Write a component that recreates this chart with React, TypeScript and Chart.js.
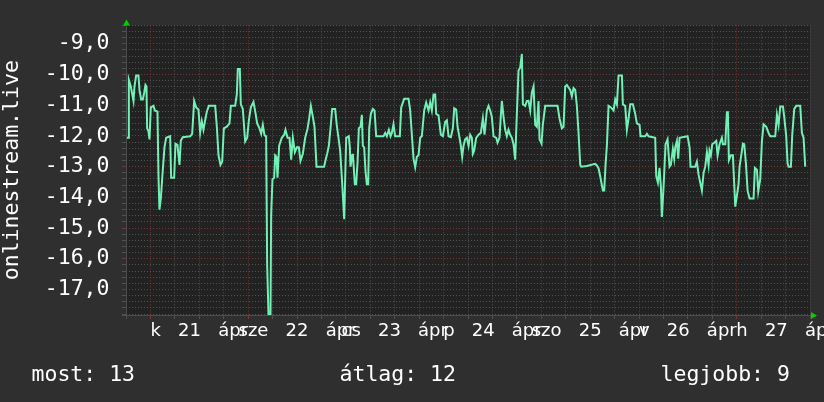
import React, { useEffect, useRef } from 'react';
import { Chart, registerables } from 'chart.js';

Chart.register(...registerables);

// hours since Tue 21 Apr 00:00
const hours = [
  -6.21, -5.45, -5.3, -4.82, -4.16, -3.92, -3.51, -2.94, -2.69, -2.28, -1.87, -1.54, -1.22, -0.97, -0.81, -0.48, -0.23,
  0.09, 0.75, 1.08, 1.73, 1.98, 2.22, 2.55, 3.04, 3.45, 3.86, 4.84, 5.09, 5.83, 6.15, 6.64, 7.14, 7.46, 7.95, 9.76,
  10.25, 10.74, 11.23, 11.8, 12.21, 12.62, 13.03, 13.44, 13.85, 14.34, 15.9, 16.31, 16.72, 17.21, 17.62, 18.03, 18.76,
  19.42, 19.75, 20.81, 21.22, 21.46, 21.96, 22.2, 22.69, 23.27, 23.76, 24.17, 24.66, 25.31, 25.8, 26.21, 26.79, 27.2,
  27.61, 28.02, 28.42, 28.67, 29.0, 29.49, 29.65, 29.98, 30.39, 30.64, 30.96, 31.21, 31.62, 32.27, 32.85, 33.17, 33.67,
  34.16, 34.57, 34.98, 35.47, 35.96, 36.45, 36.86, 37.43, 38.01, 38.58, 38.99, 39.4, 39.89, 40.3, 40.79, 42.67, 43.0,
  43.41, 43.82, 44.23, 44.64, 45.37, 45.78, 46.19, 46.6, 47.09, 47.59, 48.08, 48.73, 48.98, 49.14, 49.55, 49.72,
  50.21, 50.53, 50.86, 51.19, 51.6, 51.93, 52.17, 52.5, 52.83, 53.15, 53.48, 53.73, 54.14, 54.63, 55.04, 55.45, 57.25,
  57.66, 58.07, 58.56, 58.97, 59.3, 59.7, 60.11, 61.26, 61.59, 62.33, 63.39, 63.8, 64.21, 64.62, 65.03, 65.44, 65.85,
  66.26, 66.66, 67.24, 67.73, 68.3, 68.71, 69.12, 69.53, 69.94, 70.19, 70.76, 71.33, 71.82, 72.4, 72.81, 73.22, 73.79,
  74.28, 74.61, 75.1, 75.43, 75.92, 76.25, 76.57, 76.9, 77.31, 77.72, 78.13, 78.54, 78.95, 79.19, 79.52, 80.01, 80.59,
  81.16, 81.65, 82.06, 82.63, 83.04, 83.45, 83.86, 84.27, 84.93, 85.25, 85.74, 86.07, 86.32, 86.73, 87.14, 87.54,
  87.95, 88.36, 88.77, 89.18, 89.59, 90.0, 90.41, 90.82, 91.23, 91.48, 92.05, 92.46, 92.87, 93.28, 93.69, 94.1, 94.5,
  94.91, 95.32, 95.57, 96.06, 96.39, 96.96, 99.99, 100.48, 101.06, 101.47, 101.87, 102.28, 103.1, 103.51, 103.92,
  104.33, 104.74, 105.15, 105.56, 105.81, 107.2, 109.24, 109.65, 110.06, 110.47, 111.13, 111.46, 111.78, 112.11,
  112.52, 113.09, 113.75, 114.16, 114.57, 114.98, 115.8, 116.04, 116.61, 117.02, 117.43, 117.84, 118.5, 119.07,
  119.48, 120.14, 120.38, 121.53, 121.94, 122.35, 123.98, 124.23, 124.64, 125.05, 125.38, 125.62, 126.03, 126.52,
  127.01, 127.5, 127.83, 128.32, 128.65, 128.9, 129.31, 129.63, 129.96, 131.93, 132.42, 132.66, 133.81, 134.22,
  134.63, 135.04, 135.45, 135.86, 136.27, 136.68, 137.09, 137.33, 137.66, 137.99, 138.48, 138.97, 139.3, 139.79,
  140.36, 140.61, 141.18, 141.59, 141.83, 142.08, 142.57, 143.06, 143.39, 143.64, 144.05, 144.45, 144.7, 145.11,
  145.52, 145.85, 146.26, 146.67, 147.16, 148.14, 148.47, 148.96, 149.29, 149.78, 150.19, 150.6, 151.25, 151.82,
  152.23, 153.46, 153.87, 154.28, 154.69, 155.35, 155.67, 156.16, 156.49, 156.74, 157.31, 157.64, 158.13, 158.62,
  159.6, 160.01, 160.42, 160.83,
];

const rank = [
  -12.06, -12.06, -10.17, -10.39, -10.86, -10.39, -10.03, -10.03, -10.5, -10.81, -10.81, -10.6, -10.34, -10.39, -11.75,
  -11.85, -12.11, -11.07, -11.02, -11.17, -11.21, -13.31, -14.4, -14.04, -13.1, -12.37, -12.06, -12.01, -13.36, -13.36,
  -12.25, -12.29, -12.94, -12.16, -12.04, -12.01, -11.93, -10.86, -11.07, -11.14, -11.9, -11.52, -11.8, -11.49, -11.21,
  -11.02, -11.02, -11.7, -12.63, -12.94, -12.84, -11.75, -11.7, -11.59, -11.02, -11.02, -10.65, -9.82, -9.82, -10.97,
  -11.12, -12.18, -12.06, -11.49, -11.07, -10.89, -11.25, -11.59, -11.75, -11.93, -11.64, -11.98, -12.01, -16.22, -17.8,
  -17.8, -14.56, -13.41, -13.36, -12.63, -12.68, -13.36, -12.32, -12.06, -11.96, -11.8, -12.06, -12.06, -12.77, -12.06,
  -12.53, -12.37, -12.37, -12.81, -12.58, -12.06, -11.77, -11.43, -11.02, -11.38, -11.7, -13.0, -13.0, -12.79, -12.58,
  -12.32, -11.75, -11.12, -11.12, -11.66, -12.06, -12.48, -13.52, -14.71, -12.06, -12.01, -12.37, -13.0, -12.63,
  -12.58, -13.57, -13.57, -12.89, -11.75, -11.7, -11.31, -12.32, -12.37, -13.15, -13.57, -13.57, -11.75, -11.28,
  -11.12, -11.17, -12.01, -12.01, -11.9, -12.01, -11.8, -12.01, -11.9, -11.62, -12.01, -12.01, -11.07, -10.79, -10.79,
  -11.17, -11.96, -12.74, -13.02, -12.68, -12.63, -12.06, -12.01, -11.17, -10.91, -11.17, -10.91, -11.17, -10.65,
  -10.65, -11.28, -11.33, -11.96, -12.01, -11.54, -11.49, -12.01, -12.04, -11.75, -11.1, -11.14, -11.7, -12.06,
  -12.32, -12.68, -12.32, -12.11, -12.06, -12.32, -11.96, -12.06, -12.58, -12.48, -12.06, -11.96, -11.9, -11.43,
  -11.96, -11.17, -11.02, -11.17, -11.38, -12.01, -12.06, -12.22, -12.06, -11.33, -10.86, -11.38, -11.8, -12.01,
  -11.8, -11.96, -12.06, -12.27, -12.77, -11.28, -9.87, -9.77, -9.33, -10.97, -11.02, -10.86, -10.86, -11.17, -10.58,
  -10.39, -11.64, -11.7, -10.86, -12.11, -12.25, -11.62, -11.02, -11.02, -11.43, -11.75, -11.7, -10.39, -10.34, -10.5,
  -10.71, -10.44, -10.5, -11.02, -11.9, -12.94, -13.0, -12.98, -12.91, -12.96, -13.05, -13.31, -13.78, -13.78, -12.94,
  -12.32, -11.02, -11.07, -11.17, -10.81, -10.97, -10.03, -10.03, -10.97, -11.02, -11.8, -11.44, -10.97, -10.97,
  -11.28, -11.59, -11.64, -12.01, -12.01, -11.93, -12.01, -12.06, -13.31, -13.52, -13.04, -13.67, -14.64, -13.67,
  -12.27, -12.11, -13.0, -12.94, -12.42, -12.74, -12.37, -12.16, -12.74, -12.06, -12.01, -12.37, -13.0, -13.0, -12.84,
  -13.26, -13.52, -13.78, -13.2, -13.0, -12.53, -12.94, -12.48, -12.63, -12.27, -12.22, -12.16, -12.63, -12.27, -12.06,
  -12.27, -12.27, -11.23, -11.23, -12.79, -12.63, -12.63, -13.57, -14.3, -13.94, -13.57, -13.0, -12.63, -12.25, -12.27,
  -12.89, -13.78, -14.04, -14.04, -13.04, -13.1, -13.81, -13.41, -12.16, -11.62, -11.7, -11.9, -12.01, -12.01, -11.31,
  -11.64, -11.04, -11.04, -11.38, -12.01, -12.89, -13.0, -13.0, -11.96, -11.12, -11.02, -11.02, -11.9, -12.06, -13.0,
];

const weekdays = ['k', 'sze', 'cs', 'p', 'szo', 'v', 'h'];
const dayNumbers = ['21', '22', '23', '24', '25', '26', '27'];
const monthAbbr = 'ápr';
const labelHours = [12, 36, 60, 84, 108, 132, 156];
const yLabelValues = [-17, -16, -15, -14, -13, -12, -11, -10, -9];
const legendNames = ['most', 'átlag', 'legjobb'];
const legendValues = [13, 12, 9];
const axisTitle = 'onlinestream.live';

const X_MIN = -6;
const X_MAX = 162;
const Y_MIN = -17.83;
const Y_MAX = -8.4;

const OUTER_BG = '#2f2f2f';
const PLOT_BG = '#222222';
const MINOR = '#525252';
const MAJOR = '#7a3535';
const LINE = '#72f0b6';
const ARROW = '#00d000';
const AXIS = '#4d4d4d';
const TEXT = '#ffffff';

const xTickValues: number[] = [];
for (let h = X_MIN; h <= X_MAX; h += 6) xTickValues.push(h);
const yTickValues: number[] = [];
for (let k = 0; k <= 47; k++) yTickValues.push(Math.round((-17.8 + 0.2 * k) * 10) / 10);

const isInt = (v: number) => Math.abs(v - Math.round(v)) < 1e-6;

const decorPlugin = {
  id: 'decor',
  beforeDraw(chart: any) {
    const { ctx, chartArea: a } = chart;
    ctx.save();
    ctx.fillStyle = OUTER_BG;
    ctx.fillRect(0, 0, chart.width, chart.height);
    ctx.fillStyle = PLOT_BG;
    ctx.fillRect(a.left, a.top, a.right - a.left, a.bottom - a.top);
    ctx.restore();
  },
  afterDraw(chart: any) {
    const { ctx, chartArea: a } = chart;
    ctx.save();
    // axes
    ctx.strokeStyle = AXIS;
    ctx.lineWidth = 1;
    ctx.beginPath();
    ctx.moveTo(a.left + 0.5, a.bottom + 3);
    ctx.lineTo(a.left + 0.5, a.top - 2);
    ctx.moveTo(a.left - 4, a.bottom + 0.5);
    ctx.lineTo(a.right + 2, a.bottom + 0.5);
    ctx.stroke();
    // arrows
    ctx.fillStyle = ARROW;
    ctx.beginPath();
    ctx.moveTo(a.left + 0.5, a.top - 6);
    ctx.lineTo(a.left - 3, a.top);
    ctx.lineTo(a.left + 4, a.top);
    ctx.closePath();
    ctx.fill();
    ctx.beginPath();
    ctx.moveTo(a.right + 7, a.bottom + 0.5);
    ctx.lineTo(a.right + 1, a.bottom - 3);
    ctx.lineTo(a.right + 1, a.bottom + 4);
    ctx.closePath();
    ctx.fill();
    // legend
    ctx.fillStyle = TEXT;
    ctx.font = '21.5px "DejaVu Sans Mono"';
    ctx.textBaseline = 'alphabetic';
    ctx.textAlign = 'left';
    const xs = [31.5, 339.5, 660.5];
    legendNames.forEach((n, i) => {
      ctx.fillText(`${n}: ${legendValues[i]}`, xs[i], 381);
    });
    ctx.restore();
  },
};

export default function App() {
  const ref = useRef<HTMLCanvasElement | null>(null);

  useEffect(() => {
    if (!ref.current) return;
    const points = hours.map((h, i) => ({ x: h, y: rank[i] }));
    const chart = new Chart(ref.current, {
      type: 'line',
      data: {
        datasets: [
          {
            data: points,
            borderColor: LINE,
            borderWidth: 2,
            pointRadius: 0,
            tension: 0,
            fill: false,
          },
        ],
      },
      options: {
        animation: false,
        responsive: false,
        devicePixelRatio: 1,
        events: [],
        layout: { padding: { left: 0, right: 14, top: 13, bottom: 0 } },
        plugins: { legend: { display: false }, tooltip: { enabled: false } },
        scales: {
          x: {
            type: 'linear',
            min: X_MIN,
            max: X_MAX,
            afterBuildTicks: (s: any) => {
              s.ticks = xTickValues.map((v) => ({ value: v }));
            },
            afterFit: (s: any) => {
              s.height = 87;
            },
            grid: {
              color: (c: any) => (c.tick && c.tick.value % 24 === 0 ? MAJOR : MINOR),
              tickColor: (c: any) => (c.tick && c.tick.value % 24 === 0 ? MAJOR : MINOR),
              lineWidth: 1,
              drawTicks: true,
              tickLength: 4,
            },
            border: { display: false, dash: [1, 2] },
            ticks: {
              autoSkip: false,
              maxRotation: 0,
              minRotation: 0,
              padding: 2,
              color: TEXT,
              font: { family: 'DejaVu Sans', size: 18 },
              callback: (v: any) => {
                const i = labelHours.indexOf(Number(v));
                return i < 0 ? '' : `${weekdays[i]}   ${dayNumbers[i]}   ${monthAbbr}`;
              },
            },
          },
          y: {
            type: 'linear',
            min: Y_MIN,
            max: Y_MAX,
            afterBuildTicks: (s: any) => {
              s.ticks = yTickValues.map((v) => ({ value: v }));
            },
            afterFit: (s: any) => {
              s.width = 126;
            },
            grid: {
              color: (c: any) => (c.tick && isInt(c.tick.value) ? MAJOR : MINOR),
              tickColor: (c: any) => (c.tick && isInt(c.tick.value) ? MAJOR : MINOR),
              lineWidth: 1,
              drawTicks: true,
              tickLength: 4,
            },
            border: { display: false, dash: [1, 2] },
            title: {
              display: true,
              text: axisTitle,
              color: TEXT,
              font: { family: 'DejaVu Sans Mono', size: 21.5 },
              padding: { top: 0, bottom: 0 },
            },
            ticks: {
              autoSkip: false,
              padding: 12.5,
              color: TEXT,
              font: { family: 'DejaVu Sans Mono', size: 21.5 },
              callback: (v: any) => {
                const n = Number(v);
                const hit = yLabelValues.find((y) => Math.abs(y - n) < 1e-6);
                return hit === undefined ? '' : hit.toFixed(1).replace('.', ',');
              },
            },
          },
        },
      },
      plugins: [decorPlugin],
    });
    return () => chart.destroy();
  }, []);

  return (
    <div style={{ position: 'fixed', left: 0, top: 0, width: 824, height: 402, background: OUTER_BG }}>
      <canvas ref={ref} width={824} height={402} style={{ display: 'block', width: 824, height: 402 }} />
    </div>
  );
}
